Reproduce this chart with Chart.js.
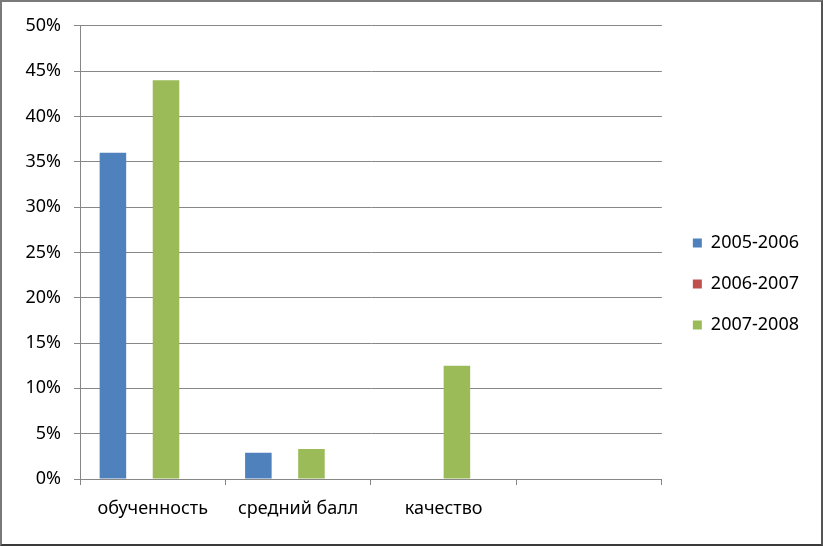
<!doctype html>
<html>
<head>
<meta charset="utf-8">
<title>Результаты</title>
<script src="https://cdn.jsdelivr.net/npm/chart.js@4"></script>
<style>
html, body { margin: 0; padding: 0; background: #fff; }
#frame {
	width: 823px; height: 546px; box-sizing: border-box;
	border: 2px solid #7a7a7a; border-bottom-color: #3a3a3a; border-right-color: #555;
	position: relative;
}
</style>
</head>
<body>
<div id="frame"><canvas id="canvas" width="819" height="542"></canvas></div>
<script>
const categories = ['обученность', 'средний балл', 'качество', ''];
const years = ['2005-2006', '2006-2007', '2007-2008', ''];
const v2005 = [0.36, 0.029, 0, null];
const v2006 = [0, 0, 0, null];
const v2007 = [0.44, 0.033, 0.125, null];
// the source sheet has a fourth, empty series that still takes a bar slot
const vEmpty = [null, null, null, null];
const yTicks = [0, 0.05, 0.1, 0.15, 0.2, 0.25, 0.3, 0.35, 0.4, 0.45, 0.5];

const colors = ['#4F81BD', '#C0504D', '#9BBB59', '#8064A2'];
const gridColor = '#878787';
const font = { family: '"Noto Sans", sans-serif', size: 18 };

// nudge the legend to the right a little, like Excel leaves a gap
const legendShift = {
	id: 'legendShift',
	afterLayout(chart) {
		chart.legend.left += 8;
		chart.legend.right += 8;
	}
};

new Chart(document.getElementById('canvas'), {
	type: 'bar',
	data: {
		labels: categories,
		datasets: [v2005, v2006, v2007, vEmpty].map((d, i) => ({
			label: years[i],
			data: d,
			backgroundColor: colors[i],
			borderWidth: 0,
			categoryPercentage: 0.73,
			barPercentage: 1
		}))
	},
	options: {
		responsive: false,
		animation: false,
		devicePixelRatio: 1,
		layout: { padding: { top: 22, right: 20, bottom: 0, left: 0 } },
		plugins: {
			title: { display: false },
			tooltip: { enabled: false },
			legend: {
				position: 'right',
				labels: {
					boxWidth: 9,
					boxHeight: 9,
					padding: 23,
					color: '#000',
					font: font,
					filter: item => item.text !== ''
				}
			}
		},
		scales: {
			x: {
				offset: true,
				grid: { drawOnChartArea: false, drawTicks: true, tickLength: 6, color: gridColor },
				border: { color: gridColor },
				ticks: { color: '#000', font: font, padding: 13, maxRotation: 0 },
				afterFit(scale) { scale.height = 65; }
			},
			y: {
				min: 0,
				max: 0.5,
				afterBuildTicks(scale) { scale.ticks = yTicks.map(v => ({ value: v })); },
				grid: { color: gridColor, tickLength: 6 },
				border: { color: gridColor },
				ticks: {
					color: '#000',
					font: font,
					padding: 13,
					callback: v => Math.round(v * 100) + '%'
				},
				afterFit(scale) { scale.width = 78; }
			}
		}
	},
	plugins: [legendShift]
});
</script>
</body>
</html>
